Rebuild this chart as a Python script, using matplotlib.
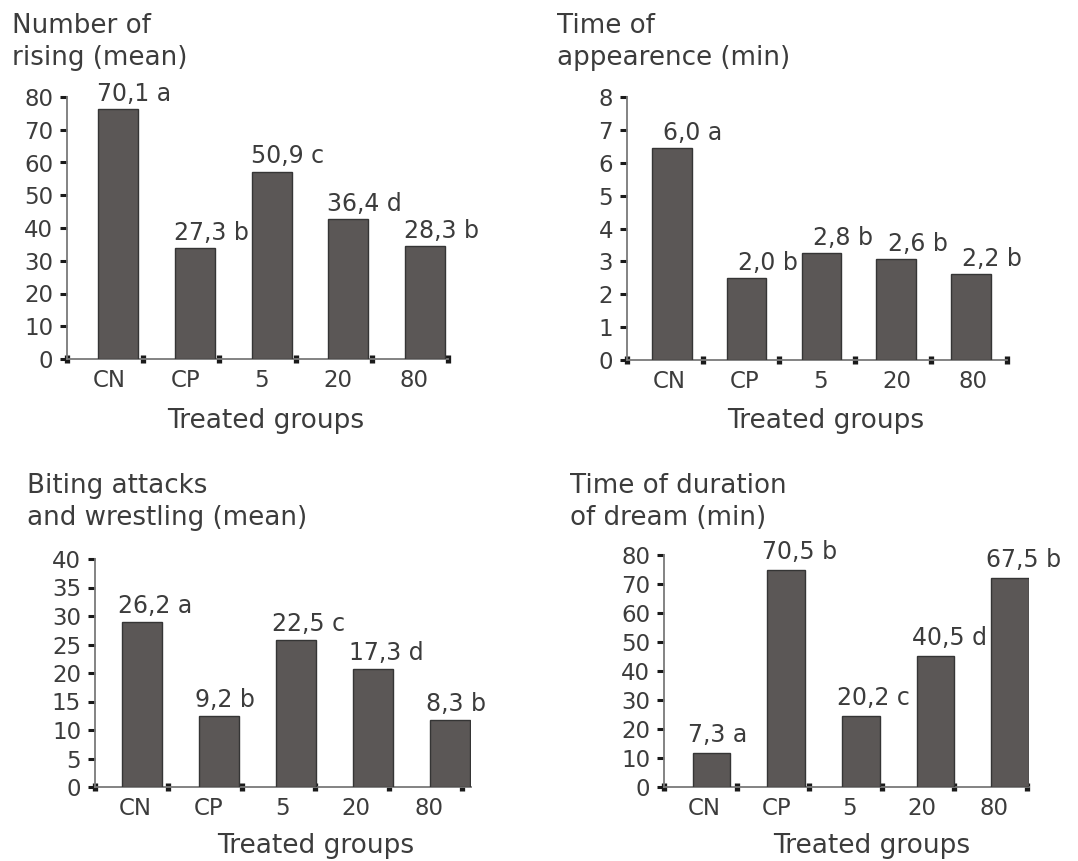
import numpy as np
import matplotlib
matplotlib.use("Agg")
import matplotlib.pyplot as plt

# groups on the x axis
groups = ["CN", "CP", "5", "20", "80"]

# bar heights as drawn in the picture, with the printed labels
rising_h = [76.2, 33.8, 57.2, 42.6, 34.5]
rising_lab = ["70,1 a", "27,3 b", "50,9 c", "36,4 d", "28,3 b"]

appear_h = [6.46, 2.50, 3.24, 3.06, 2.61]
appear_lab = ["6,0 a", "2,0 b", "2,8 b", "2,6 b", "2,2 b"]

biting_h = [28.9, 12.5, 25.8, 20.7, 11.8]
biting_lab = ["26,2 a", "9,2 b", "22,5 c", "17,3 d", "8,3 b"]

dream_h = [11.8, 74.9, 24.6, 45.1, 72.1]
dream_lab = ["7,3 a", "70,5 b", "20,2 c", "40,5 d", "67,5 b"]

W, H = 1078, 861
TXT = "#3c3c3c"
BAR = "#5b5756"

fig = plt.figure(figsize=(W / 100, H / 100), dpi=100)
plt.rcParams["font.family"] = ["DejaVu Sans"]


def ftext(x, y, s, size=18.8, ha="left"):
    fig.text(x / W, 1 - y / H, s, fontsize=size, color=TXT, ha=ha, va="baseline")


def panel(left, y0, ytop, step_px, xr, ymax, ystep, heights, labels,
          off, bstep, bw, dx, dy, title, tx, ty, xl_x, xl_y):
    ax = fig.add_axes([left / W, 1 - y0 / H, xr * step_px / W, (y0 - ytop) / H])
    pos = off + np.arange(len(heights)) * bstep
    ax.bar(pos, heights, width=bw, color=BAR, edgecolor="#353535", linewidth=1, zorder=3)
    for p, h, lab in zip(pos, heights, labels):
        ax.annotate(lab, xy=(p - bw / 2, h), xytext=(dx, dy), textcoords="offset points",
                    ha="left", va="baseline", fontsize=17, color=TXT)
    ax.set_xlim(0, xr)
    ax.set_ylim(0, ymax)
    ax.set_yticks(np.arange(0, ymax + ystep / 2, ystep))
    ax.set_xticks(np.arange(5) + 0.55)
    ax.set_xticklabels(groups)
    ax.set_xticks(np.arange(6), minor=True)
    ax.tick_params(axis="x", which="major", length=0, pad=7, labelsize=16.5, labelcolor=TXT)
    ax.tick_params(axis="x", which="minor", direction="inout", length=5.5, width=3.8, color="#1a1a1a")
    ax.tick_params(axis="y", length=5, width=2.2, color="#1a1a1a", pad=5,
                   labelsize=16.5, labelcolor=TXT)
    for s in ["top", "right"]:
        ax.spines[s].set_visible(False)
    for s in ["left", "bottom"]:
        ax.spines[s].set_color("#7a7a7a")
        ax.spines[s].set_linewidth(1.3)
    ax.patch.set_alpha(0)
    ftext(tx, ty, title[0])
    ftext(tx, ty + 32, title[1])
    ftext(xl_x, xl_y, "Treated groups", size=19, ha="center")
    return ax


panel(67, 359, 97, 76.2, 5.0, 80, 10, rising_h, rising_lab,
      0.67, 1.007, 0.525, -0.7, 6.0,
      ["Number of", "rising (mean)"], 12, 33, 266, 428)

panel(627, 360, 97, 76.0, 5.0, 8, 1, appear_h, appear_lab,
      0.59, 0.984, 0.52, 8.0, 5.8,
      ["Time of", "appearence (min)"], 557, 33, 826, 428)

panel(95, 787, 559, 73.4, 5.12, 40, 5, biting_h, biting_lab,
      0.64, 1.049, 0.545, -3.0, 6.5,
      ["Biting attacks", "and wrestling (mean)"], 27, 493, 316, 853)

panel(664, 787, 555, 72.6, 5.03, 80, 10, dream_h, dream_lab,
      0.654, 1.028, 0.52, -3.6, 8.0,
      ["Time of duration", "of dream (min)"], 570, 493, 872, 853)

fig.savefig("out.png", dpi=100)
